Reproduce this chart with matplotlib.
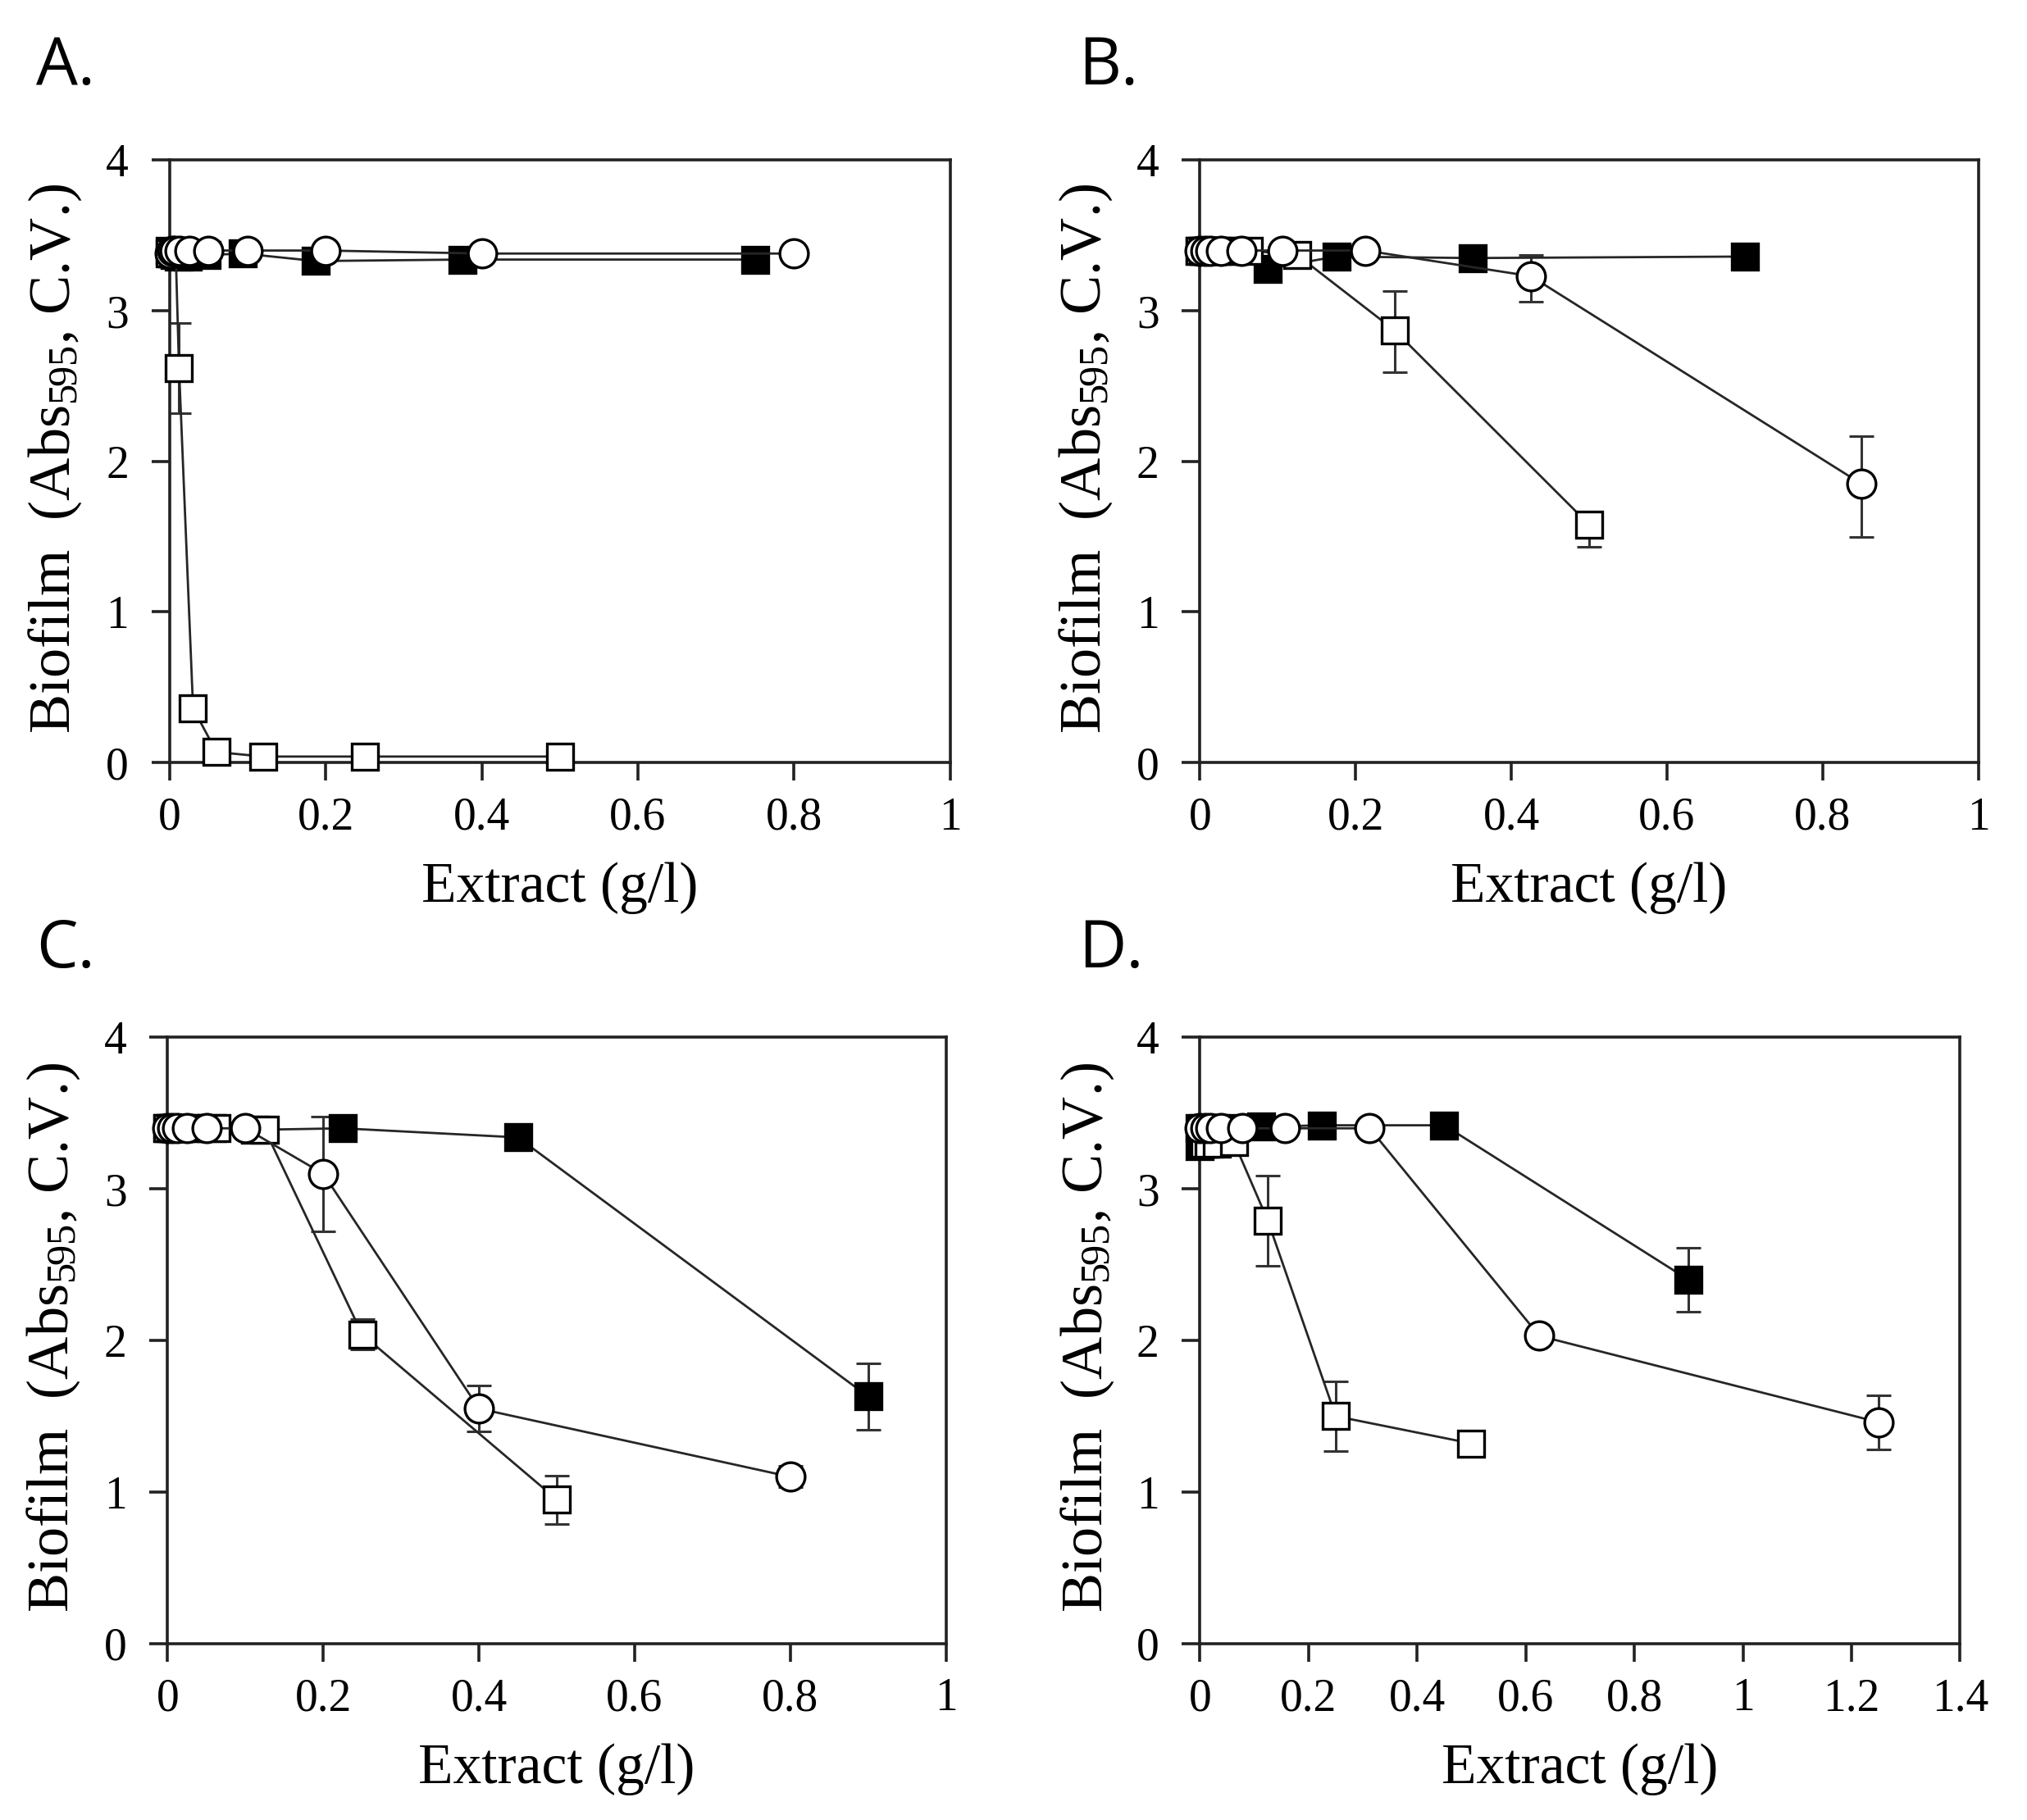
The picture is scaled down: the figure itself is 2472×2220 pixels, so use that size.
import numpy as np
import matplotlib
matplotlib.use("Agg")
from matplotlib import pyplot as plt
from matplotlib.ticker import FormatStrFormatter

plt.rcParams['mathtext.fontset'] = 'custom'
plt.rcParams['mathtext.rm'] = 'Liberation Serif'
plt.rcParams['mathtext.it'] = 'Liberation Serif:italic'

# Panel A
a_fill_x = [0, 0.0029, 0.0059, 0.0117, 0.0234, 0.0469, 0.0938, 0.1875, 0.375, 0.75]
a_fill_y = [3.40, 3.38, 3.37, 3.36, 3.36, 3.37, 3.38, 3.33, 3.34, 3.34]
a_circ_x = [0, 0.0031, 0.0063, 0.0125, 0.025, 0.05, 0.1, 0.2, 0.4, 0.8]
a_circ_y = [3.38, 3.40, 3.40, 3.40, 3.40, 3.40, 3.40, 3.40, 3.38, 3.38]
a_open_x = [0, 0.0039, 0.0078, 0.012, 0.03, 0.06, 0.12, 0.25, 0.5]
a_open_y = [3.38, 3.38, 3.38, 2.62, 0.36, 0.07, 0.04, 0.04, 0.04]
a_open_err = [0, 0, 0, 0.30, 0, 0, 0, 0, 0]

# Panel B
b_fill_x = [0, 0.0055, 0.0109, 0.0219, 0.0438, 0.0875, 0.175, 0.35, 0.7]
b_fill_y = [3.40, 3.40, 3.40, 3.40, 3.40, 3.28, 3.36, 3.35, 3.36]
b_circ_x = [0, 0.0066, 0.0133, 0.0266, 0.053, 0.106, 0.2125, 0.425, 0.85]
b_circ_y = [3.40, 3.40, 3.40, 3.40, 3.40, 3.40, 3.40, 3.23, 1.85]
b_circ_lo = [0, 0, 0, 0, 0, 0, 0, 0.17, 0.35]
b_circ_hi = [0, 0, 0, 0, 0, 0, 0, 0.14, 0.32]
b_open_x = [0, 0.0039, 0.0078, 0.0156, 0.031, 0.0625, 0.125, 0.25, 0.5]
b_open_y = [3.40, 3.40, 3.40, 3.40, 3.40, 3.40, 3.37, 2.87, 1.58]
b_open_lo = [0, 0, 0, 0, 0, 0, 0, 0.28, 0.15]
b_open_hi = [0, 0, 0, 0, 0, 0, 0, 0.26, 0.08]

# Panel C
c_fill_x = [0, 0.007, 0.014, 0.028, 0.056, 0.1125, 0.225, 0.45, 0.9]
c_fill_y = [3.40, 3.40, 3.40, 3.40, 3.40, 3.39, 3.40, 3.34, 1.63]
c_fill_err = [0, 0, 0, 0, 0, 0, 0, 0, 0.22]
c_circ_x = [0, 0.0063, 0.0125, 0.025, 0.05, 0.1, 0.2, 0.4, 0.8]
c_circ_y = [3.40, 3.40, 3.40, 3.40, 3.40, 3.40, 3.10, 1.55, 1.10]
c_circ_err = [0, 0, 0, 0, 0, 0, 0.38, 0.15, 0.07]
c_open_x = [0, 0.0039, 0.0078, 0.0156, 0.031, 0.0625, 0.125, 0.25, 0.5]
c_open_y = [3.40, 3.40, 3.40, 3.40, 3.40, 3.40, 3.39, 2.04, 0.95]
c_open_err = [0, 0, 0, 0, 0, 0, 0, 0.10, 0.16]

# Panel D
d_fill_x = [0, 0.007, 0.014, 0.028, 0.056, 0.1125, 0.225, 0.45, 0.9]
d_fill_y = [3.40, 3.40, 3.40, 3.40, 3.40, 3.41, 3.42, 3.42, 2.40]
d_fill_err = [0, 0, 0, 0, 0, 0, 0, 0, 0.21]
d_circ_x = [0, 0.0098, 0.0195, 0.039, 0.078, 0.156, 0.3125, 0.625, 1.25]
d_circ_y = [3.40, 3.40, 3.40, 3.40, 3.40, 3.40, 3.40, 2.03, 1.46]
d_circ_err = [0, 0, 0, 0, 0, 0, 0, 0.05, 0.18]
d_open_x = [0, 0.0039, 0.0078, 0.0156, 0.031, 0.0625, 0.125, 0.25, 0.5]
d_open_y = [3.28, 3.30, 3.30, 3.30, 3.30, 3.31, 2.79, 1.50, 1.32]
d_open_err = [0, 0, 0, 0, 0, 0, 0.30, 0.23, 0]

# letter, axes rect, x max, letter position, series
panels = [
    ('A.', [0.0837, 0.581, 0.385, 0.331], 1.0, (0.018, 0.9536),
     [(a_fill_x, a_fill_y, None, 'fill'), (a_open_x, a_open_y, a_open_err, 'open'),
      (a_circ_x, a_circ_y, None, 'circ')]),
    ('B.', [0.592, 0.581, 0.384, 0.331], 1.0, (0.532, 0.9536),
     [(b_fill_x, b_fill_y, None, 'fill'), (b_open_x, b_open_y, [b_open_lo, b_open_hi], 'open'),
      (b_circ_x, b_circ_y, [b_circ_lo, b_circ_hi], 'circ')]),
    ('C.', [0.0827, 0.097, 0.384, 0.333], 1.0, (0.018, 0.4686),
     [(c_fill_x, c_fill_y, c_fill_err, 'fill'), (c_open_x, c_open_y, c_open_err, 'open'),
      (c_circ_x, c_circ_y, c_circ_err, 'circ')]),
    ('D.', [0.592, 0.097, 0.375, 0.333], 1.4, (0.532, 0.4686),
     [(d_fill_x, d_fill_y, d_fill_err, 'fill'), (d_open_x, d_open_y, d_open_err, 'open'),
      (d_circ_x, d_circ_y, d_circ_err, 'circ')]),
]

styles = {
    'fill': dict(marker='s', markerfacecolor='black', markersize=23),
    'open': dict(marker='s', markerfacecolor='white', markersize=23),
    'circ': dict(marker='o', markerfacecolor='white', markersize=25),
}

line_col = '#262626'
fig = plt.figure(figsize=(24.72, 22.2), dpi=100)

for letter, rect, xmax, lpos, series in panels:
    ax = fig.add_axes(rect)
    for x, y, err, kind in series:
        x = np.array(x)
        y = np.array(y)
        if err is not None:
            err = np.array(err, dtype=float)
            if err.ndim == 1:
                err = np.vstack([err, err])
            m = (err[0] > 0) | (err[1] > 0)
            ax.errorbar(x[m], y[m], yerr=err[:, m], fmt='none', ecolor='#333333',
                        elinewidth=2.2, capsize=11, capthick=2.2, zorder=2)
        ax.plot(x, y, color=line_col, linewidth=2.0, markeredgecolor='black',
                markeredgewidth=2.4, zorder=3, clip_on=False, **styles[kind])

    ax.set_xlim(0, xmax)
    ax.set_ylim(0, 4)
    ax.set_xticks(np.arange(0, xmax + 0.01, 0.2))
    ax.set_yticks([0, 1, 2, 3, 4])
    ax.xaxis.set_major_formatter(FormatStrFormatter('%g'))
    for s in ax.spines.values():
        s.set_linewidth(2.6)
        s.set_color('#222222')
    ax.tick_params(direction='out', length=16, width=2.6, color='#222222', labelsize=40)
    ax.tick_params(axis='x', pad=14)
    ax.tick_params(axis='y', pad=20)
    for lab in ax.get_xticklabels() + ax.get_yticklabels():
        lab.set_fontfamily('Liberation Serif')
    ax.set_xlabel('Extract (g/l)', fontsize=50, fontfamily='Liberation Serif', labelpad=20)
    ax.set_ylabel(r'Biofilm  (Abs$_{595}$, C.V.)', fontsize=52, fontfamily='Liberation Serif')
    ax.yaxis.set_label_coords(-0.11, 0.505)
    fig.text(lpos[0], lpos[1], letter, fontsize=58, fontfamily='Open Sans',
             ha='left', va='baseline')

fig.savefig('out.png', dpi=100, facecolor='white')
